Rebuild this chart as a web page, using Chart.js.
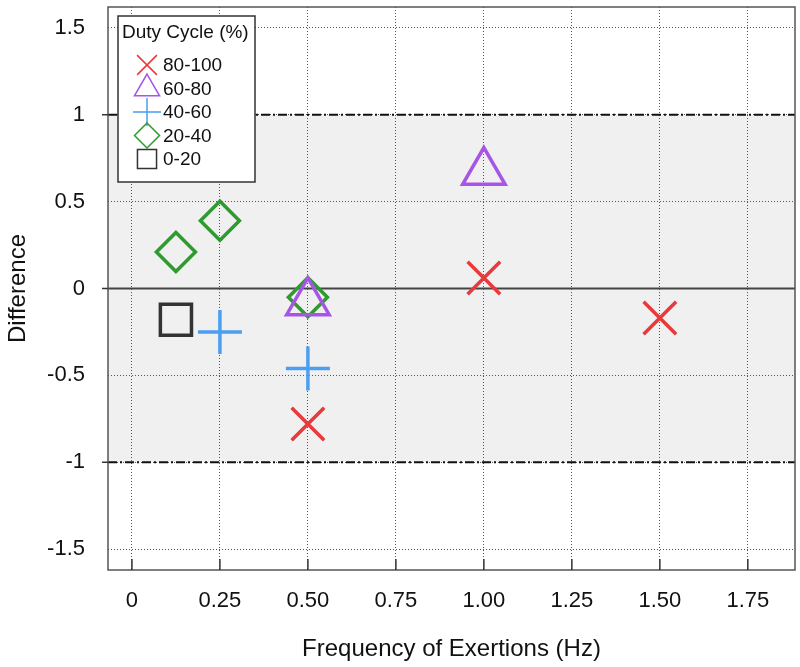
<!DOCTYPE html>
<html>
<head>
<meta charset="utf-8">
<script src="https://cdn.jsdelivr.net/npm/chart.js@4.4.1/dist/chart.umd.min.js"></script>
<style>
  html, body { margin: 0; padding: 0; background: #fff; }
  #wrap { width: 800px; height: 667px; }
</style>
</head>
<body>
<div id="wrap"><canvas id="chart"></canvas></div>
<script>
// data
const xTicks = [0, 0.25, 0.5, 0.75, 1.0, 1.25, 1.5, 1.75]
const xTickLabels = ["0", "0.25", "0.50", "0.75", "1.00", "1.25", "1.50", "1.75"]
const yTicks = [1.5, 1, 0.5, 0, -0.5, -1, -1.5]
const yTickLabels = ["1.5", "1", "0.5", "0", "-0.5", "-1", "-1.5"]

const groups = ["80-100", "60-80", "40-60", "20-40", "0-20"]

const freq80 = [0.5, 1.0, 1.5]
const diff80 = [-0.78, 0.06, -0.17]
const freq60 = [0.5, 1.0]
const diff60 = [-0.08, 0.67]
const freq40 = [0.25, 0.5]
const diff40 = [-0.25, -0.46]
const freq20 = [0.125, 0.25, 0.5]
const diff20 = [0.21, 0.39, -0.05]
const freq0 = [0.125]
const diff0 = [-0.18]

const limitBand = [-1, 1]

const FONT = "'Liberation Sans', Arial, sans-serif"

const styles = [
  { color: "#e8393b", shape: "crossRot", r: 23, lr: 14 },
  { color: "#a655e6", shape: "triangle", r: 24.5, lr: 14.5 },
  { color: "#4c9ff0", shape: "cross", r: 22, lr: 14 },
  { color: "#2f9a2f", shape: "rectRot", r: 19.5, lr: 12.5 },
  { color: "#333333", shape: "rect", r: 22, lr: 13.5 },
]

function pts(xs, ys) {
  return xs.map((x, i) => ({ x: x, y: ys[i] }))
}

const series = [
  pts(freq80, diff80),
  pts(freq60, diff60),
  pts(freq40, diff40),
  pts(freq20, diff20),
  pts(freq0, diff0),
]

const datasets = series.map((d, i) => ({
  label: groups[i],
  data: d,
  showLine: false,
  pointStyle: styles[i].shape,
  pointRadius: styles[i].r,
  pointHoverRadius: styles[i].r,
  pointBorderWidth: 3.5,
  pointHoverBorderWidth: 3.5,
  borderColor: styles[i].color,
  backgroundColor: "rgba(0,0,0,0)",
}))

// shaded band, reference lines, frame, ticks and the boxed legend
const decor = {
  id: "decor",
  beforeDraw(chart) {
    const { ctx, chartArea: a, scales } = chart
    const y1 = scales.y.getPixelForValue(limitBand[1])
    const y0 = scales.y.getPixelForValue(limitBand[0])
    ctx.save()
    ctx.fillStyle = "#f0f0f0"
    ctx.fillRect(a.left, y1, a.right - a.left, y0 - y1)
    ctx.restore()
  },
  beforeDatasetsDraw(chart) {
    const { ctx, chartArea: a, scales } = chart
    ctx.save()
    // +-1 limits
    ctx.strokeStyle = "#111"
    ctx.lineWidth = 2
    ctx.setLineDash([9, 3, 2, 3])
    limitBand.forEach(v => {
      const y = scales.y.getPixelForValue(v)
      ctx.beginPath()
      ctx.moveTo(a.left, y)
      ctx.lineTo(a.right, y)
      ctx.stroke()
    })
    ctx.setLineDash([])
    // zero line
    const yz = scales.y.getPixelForValue(0)
    ctx.strokeStyle = "#444"
    ctx.lineWidth = 2
    ctx.beginPath()
    ctx.moveTo(a.left, yz)
    ctx.lineTo(a.right, yz)
    ctx.stroke()
    // frame
    ctx.strokeStyle = "#555"
    ctx.lineWidth = 1.5
    ctx.strokeRect(a.left, a.top, a.right - a.left, a.bottom - a.top)
    // x ticks, inside
    ctx.strokeStyle = "#333"
    xTicks.forEach(v => {
      const x = scales.x.getPixelForValue(v)
      ctx.beginPath()
      ctx.moveTo(x, a.bottom)
      ctx.lineTo(x, a.bottom - 11)
      ctx.stroke()
    })
    // y ticks at whole numbers, outside
    yTicks.filter(v => Number.isInteger(v)).forEach(v => {
      const y = scales.y.getPixelForValue(v)
      ctx.beginPath()
      ctx.moveTo(a.left - 6, y)
      ctx.lineTo(a.left, y)
      ctx.stroke()
    })
    ctx.restore()
  },
  afterDraw(chart) {
    const { ctx, chartArea: a } = chart
    const bx = a.left + 10, by = a.top + 9, bw = 137, bh = 166
    ctx.save()
    ctx.fillStyle = "#fff"
    ctx.fillRect(bx, by, bw, bh)
    ctx.strokeStyle = "#333"
    ctx.lineWidth = 1.5
    ctx.strokeRect(bx, by, bw, bh)
    ctx.fillStyle = "#111"
    ctx.textBaseline = "middle"
    ctx.font = "19px " + FONT
    ctx.fillText("Duty Cycle (%)", bx + 4, by + 17)
    groups.forEach((g, i) => {
      const cy = by + 49 + i * 23.5
      ctx.strokeStyle = styles[i].color
      ctx.fillStyle = "rgba(0,0,0,0)"
      Chart.helpers.drawPoint(ctx, {
        pointStyle: styles[i].shape,
        radius: styles[i].lr,
        rotation: 0,
        borderWidth: 2,
      }, bx + 29, cy)
      ctx.fillStyle = "#111"
      ctx.fillText(g, bx + 45, cy + 1)
    })
    ctx.restore()
  },
}

const config = {
  type: "scatter",
  data: { datasets: datasets },
  options: {
    responsive: true,
    maintainAspectRatio: false,
    animation: false,
    layout: { autoPadding: false, padding: { top: 7, right: 5, left: 0, bottom: 0 } },
    plugins: {
      legend: { display: false },
      tooltip: { enabled: false },
    },
    scales: {
      x: {
        type: "linear",
        min: -0.068,
        max: 1.884,
        afterBuildTicks: s => { s.ticks = xTicks.map(v => ({ value: v })) },
        afterFit: s => {
          s.height = 97
          s.paddingLeft = 0
          s.paddingRight = 0
        },
        ticks: {
          autoSkip: false,
          maxRotation: 0,
          padding: 18,
          color: "#111",
          font: { family: FONT, size: 22 },
          callback: (v, i) => xTickLabels[i],
        },
        grid: { color: "#555", lineWidth: 1, drawTicks: false },
        border: { display: false, dash: [1, 2] },
        title: {
          display: true,
          text: "Frequency of Exertions (Hz)",
          color: "#111",
          font: { family: FONT, size: 24 },
          padding: { top: 0, bottom: 3 },
        },
      },
      y: {
        type: "linear",
        min: -1.62,
        max: 1.62,
        afterBuildTicks: s => { s.ticks = yTicks.map(v => ({ value: v })) },
        afterFit: s => {
          s.width = 108
          s.paddingTop = 0
          s.paddingBottom = 0
        },
        ticks: {
          autoSkip: false,
          padding: 23,
          color: "#111",
          font: { family: FONT, size: 22 },
          callback: (v, i) => yTickLabels[i],
        },
        grid: { color: "#555", lineWidth: 1, drawTicks: false },
        border: { display: false, dash: [1, 2] },
        title: {
          display: true,
          text: "Difference",
          color: "#111",
          font: { family: FONT, size: 24 },
          padding: { top: 4, bottom: 0 },
        },
      },
    },
  },
  plugins: [decor],
}

const myChart = new Chart(document.getElementById("chart"), config)
</script>
</body>
</html>
